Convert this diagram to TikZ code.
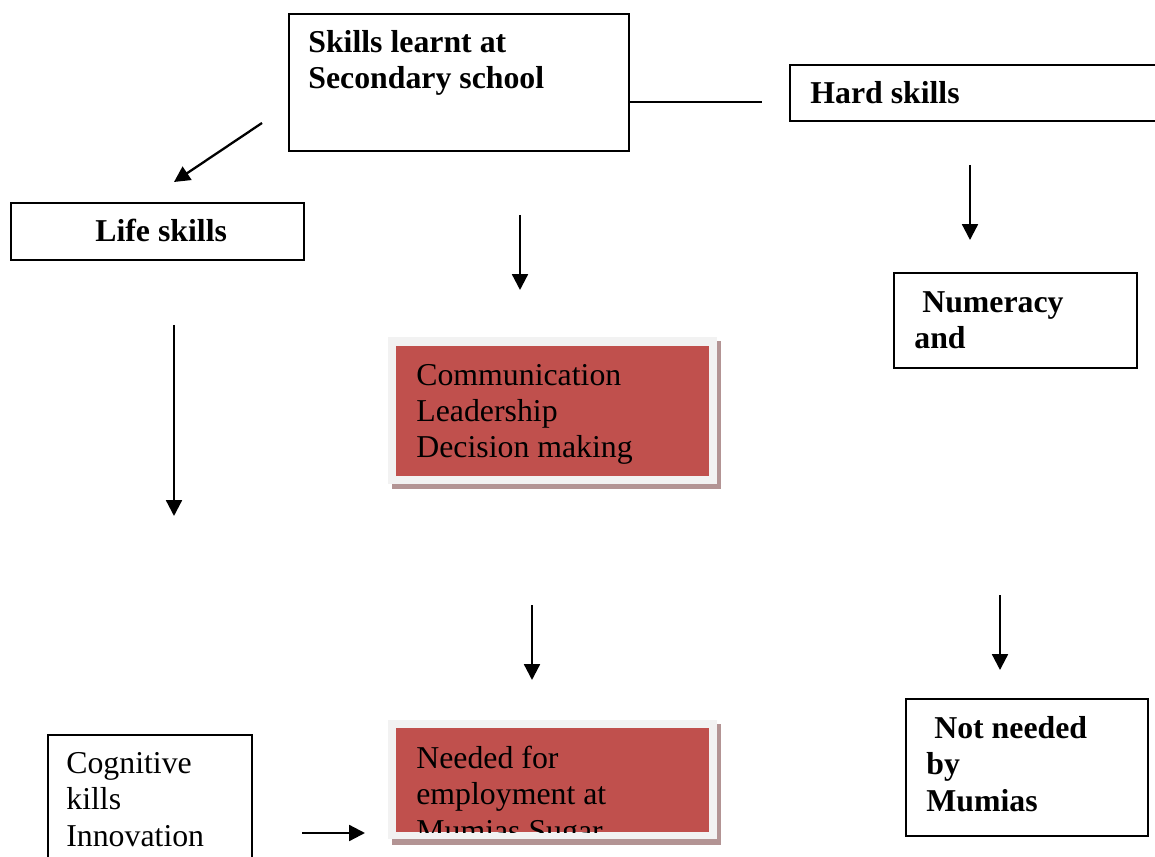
\documentclass[tikz,border=0pt]{standalone}
\usepackage{fontspec}
\setmainfont{Liberation Serif}
\usetikzlibrary{arrows.meta}

\definecolor{cellred}{HTML}{C0504D}
\definecolor{framegray}{HTML}{F2F2F2}
\definecolor{shadowrose}{HTML}{B39494}

\tikzset{
  box/.style={draw, line width=1pt, rectangle, inner sep=0pt, anchor=north west},
  txt/.style={inner sep=0pt, anchor=base west, align=left,
    font=\fontsize{18.1pt}{20.7pt}\selectfont},
  txtb/.style={txt, font=\fontsize{18.1pt}{20.7pt}\selectfont\bfseries},
  arr/.style={line width=1.3pt, ->}
}

\begin{document}
\begin{tikzpicture}[x=0.02cm,y=-0.02cm,>={Triangle[length=9pt,width=9pt]}]

	\useasboundingbox (0,0) rectangle (1155,857);
	\clip (0,0) rectangle (1155,857);

	% white boxes
	\node[box, minimum width=6.8cm, minimum height=2.74cm] (skills) at (288,13) {};
	\node[box, minimum width=7.62cm, minimum height=1.12cm] (hard) at (789,64) {};
	\node[box, minimum width=5.86cm, minimum height=1.14cm] (life) at (10,202) {};
	\node[box, minimum width=4.86cm, minimum height=1.9cm] (numeracy) at (893,272) {};
	\node[box, minimum width=4.08cm, minimum height=2.72cm] (cognitive) at (47,734) {};
	\node[box, minimum width=4.84cm, minimum height=2.74cm] (notneeded) at (905,698) {};

	% texts sit on the baseline of their last line
	\node[txtb] (skillstext) at (308,89) {Skills learnt at\\Secondary school};
	\node[txtb] (hardtext) at (810,104) {Hard skills};
	\node[txtb] (lifetext) at (95,242) {Life skills};
	\node[txtb] (numeracytext) at (914,349) {\hspace*{.25em}Numeracy\\and};
	\node[txt] (cognitivetext) at (66,846) {Cognitive\\kills\\Innovation};
	\node[txtb] (notneededtext) at (926,811) {\hspace*{.25em}Not needed\\by\\Mumias};

	% red boxes
	\fill[shadowrose] (392,341) rectangle (721,489);
	\fill[framegray] (388,337) rectangle (717,484);
	\fill[cellred] (396,346) rectangle (709,476);
	\node[txt] (commtext) at (416,458) {Communication\\Leadership\\Decision making};

	\fill[shadowrose] (392,724) rectangle (721,845);
	\fill[framegray] (388,720) rectangle (717,839);
	\begin{scope}
		\clip (396,728) rectangle (709,832);
		\fill[cellred] (396,728) rectangle (709,832);
		\node[txt] (neededtext) at (416,841) {Needed for\\employment at\\Mumias Sugar};
	\end{scope}

	% connectors
	\coordinate (link) at (762,102);
	\draw[line width=1pt] (link -| skills.east) -- (link);

	\coordinate (a1) at (262,123);
	\coordinate (a2) at (174,182);
	\coordinate (b1) at (520,215);
	\coordinate (b2) at (520,290);
	\coordinate (c1) at (970,165);
	\coordinate (c2) at (970,240);
	\coordinate (d1) at (174,325);
	\coordinate (d2) at (174,516);
	\coordinate (e1) at (532,605);
	\coordinate (e2) at (532,680);
	\coordinate (f1) at (1000,595);
	\coordinate (f2) at (1000,670);
	\coordinate (g1) at (302,833);
	\coordinate (g2) at (365,833);

	\draw[arr] (a1) -- (a2);
	\draw[arr] (b1) -- (b2);
	\draw[arr] (c1) -- (c2);
	\draw[arr] (d1) -- (d2);
	\draw[arr] (e1) -- (e2);
	\draw[arr] (f1) -- (f2);
	\draw[arr] (g1) -- (g2);

\end{tikzpicture}
\end{document}
